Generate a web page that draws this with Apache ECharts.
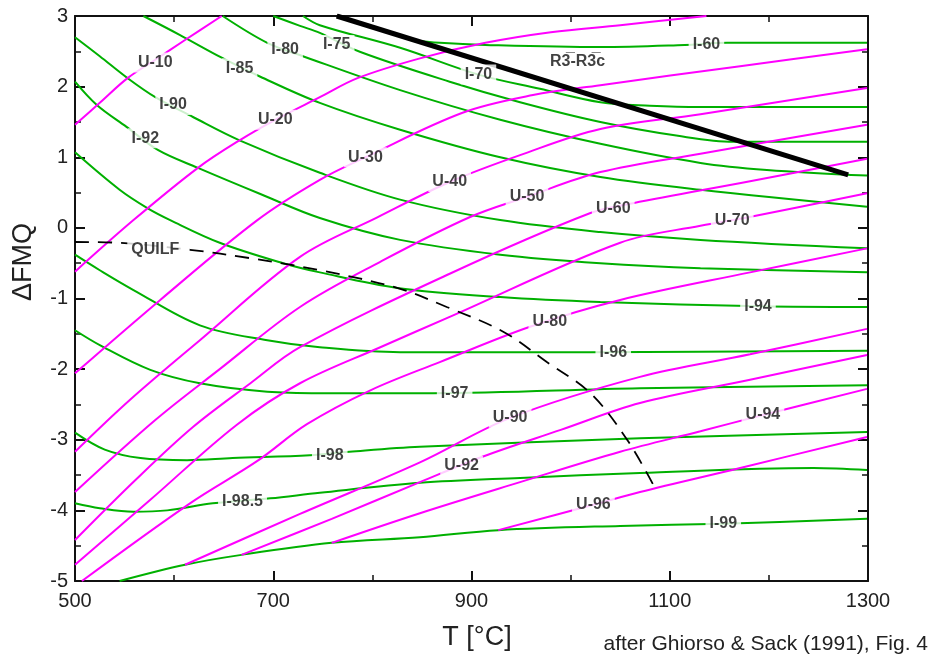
<!DOCTYPE html>
<html>
<head>
<meta charset="utf-8">
<script src="https://cdn.jsdelivr.net/npm/echarts@6/dist/echarts.min.js"></script>
<style>
html,body{margin:0;padding:0;background:#fff;}
#chart{width:933px;height:659px;}
</style>
</head>
<body>
<div id="chart"></div>
<script>
// ---- axis ticks ----
const xMajor = [500, 700, 900, 1100, 1300];
const xMinor = [600, 800, 1000, 1200];
const yMajor = [-5, -4, -3, -2, -1, 0, 1, 2, 3];
const yMinor = [-4.5, -3.5, -2.5, -1.5, -0.5, 0.5, 1.5, 2.5];

// ---- ulvöspinel isopleths (magenta): [T °C, ΔFMQ] ----
const U10 = [[500,1.46],[525,1.77],[553,2.12],[581,2.38],[611,2.66],[648,3.0]];
const U20 = [[500,-0.62],[559,0.11],[624,0.85],[666,1.24],[702,1.53],[747,1.85],[785,2.12],[848,2.40],[914,2.62],[980,2.77],[1050,2.87],[1137,3.0]];
const U30 = [[500,-2.06],[586,-1.02],[684,0.11],[747,0.68],[793,1.0],[891,1.63],[962,1.88],[1030,2.02],[1171,2.29],[1299,2.53]];
const U40 = [[500,-3.17],[555,-2.44],[626,-1.59],[727,-0.41],[805,0.15],[878,0.65],[949,1.03],[1030,1.40],[1131,1.61],[1299,1.98]];
const U50 = [[500,-3.74],[581,-2.72],[646,-2.0],[727,-1.12],[808,-0.48],[898,0.15],[956,0.44],[1030,0.79],[1131,1.05],[1299,1.46]];
const U60 = [[500,-4.42],[561,-3.57],[619,-2.82],[677,-2.20],[727,-1.69],[878,-0.65],[1020,0.21],[1063,0.35],[1181,0.66],[1299,0.98]];
const U70 = [[500,-4.77],[576,-3.85],[663,-2.79],[727,-2.20],[808,-1.69],[878,-1.26],[1050,-0.21],[1131,0.03],[1183,0.16],[1299,0.49]];
const U80 = [[507,-5.0],[616,-3.90],[684,-3.30],[734,-2.78],[798,-2.30],[868,-1.90],[959,-1.40],[1050,-1.02],[1181,-0.63],[1299,-0.29]];
const U90 = [[611,-4.77],[727,-4.05],[848,-3.32],[939,-2.69],[1070,-2.11],[1181,-1.79],[1299,-1.43]];
const U92 = [[668,-4.63],[759,-4.12],[848,-3.60],[911,-3.24],[990,-2.86],[1070,-2.48],[1181,-2.15],[1299,-1.80]];
const U94 = [[759,-4.46],[848,-4.04],[949,-3.60],[1050,-3.17],[1131,-2.88],[1194,-2.65],[1299,-2.28]];
const U96 = [[927,-4.28],[1023,-3.92],[1070,-3.74],[1171,-3.40],[1299,-2.96]];

// ---- ilmenite isopleths (green) ----
const I60 = [[838,2.66],[868,2.62],[914,2.59],[1030,2.56],[1115,2.59],[1158,2.62],[1299,2.62]];
const I70 = [[730,3.0],[747,2.87],[828,2.55],[907,2.17],[969,1.97],[1030,1.78],[1080,1.73],[1131,1.71],[1299,1.71]];
const I75 = [[700,3.0],[727,2.86],[747,2.76],[788,2.49],[878,2.07],[949,1.78],[1030,1.50],[1110,1.30],[1164,1.22],[1299,1.22]];
const I80 = [[649,3.0],[694,2.62],[732,2.42],[828,1.95],[929,1.53],[1030,1.19],[1131,0.92],[1198,0.82],[1299,0.74]];
const I85 = [[569,3.0],[606,2.73],[648,2.41],[687,2.14],[747,1.77],[828,1.39],[929,1.0],[1030,0.72],[1131,0.54],[1299,0.30]];
const I90 = [[500,2.70],[525,2.43],[553,2.12],[581,1.85],[619,1.57],[666,1.24],[747,0.78],[828,0.40],[929,0.11],[1030,-0.06],[1131,-0.17],[1299,-0.29]];
const I92 = [[500,2.07],[522,1.74],[552,1.43],[584,1.10],[624,0.85],[687,0.48],[747,0.14],[828,-0.17],[929,-0.38],[1030,-0.50],[1131,-0.57],[1299,-0.63]];
const I94 = [[500,1.07],[545,0.54],[573,0.28],[596,0.11],[646,-0.21],[710,-0.50],[747,-0.63],[825,-0.85],[929,-0.98],[1030,-1.05],[1191,-1.11],[1299,-1.12]];
const I96 = [[500,-0.38],[525,-0.60],[559,-0.88],[626,-1.38],[694,-1.59],[747,-1.69],[828,-1.76],[1020,-1.76],[1299,-1.74]];
const I97 = [[500,-1.45],[525,-1.66],[576,-2.01],[626,-2.20],[694,-2.32],[747,-2.34],[861,-2.34],[1070,-2.27],[1299,-2.23]];
const I98 = [[500,-2.90],[530,-3.14],[566,-3.26],[613,-3.29],[659,-3.26],[737,-3.22],[777,-3.17],[848,-3.10],[1070,-2.98],[1299,-2.89]];
const I985 = [[500,-3.90],[525,-3.97],[559,-4.02],[593,-4.00],[639,-3.90],[697,-3.83],[747,-3.75],[848,-3.61],[949,-3.54],[1070,-3.47],[1245,-3.40],[1299,-3.43]];
const I99 = [[545,-5.0],[611,-4.77],[668,-4.63],[759,-4.46],[848,-4.38],[927,-4.28],[1050,-4.22],[1154,-4.19],[1299,-4.12]];

// ---- phase boundaries ----
const R3R3c = [[764,3.0],[1280,0.75]];
const QUILF = [[500,-0.20],[542,-0.21],[616,-0.31],[677,-0.43],[747,-0.60],[825,-0.85],[875,-1.12],[932,-1.47],[976,-1.90],[1020,-2.34],[1057,-3.0],[1085,-3.68]];

// ---- curve labels ----
const labelText = ['U-10','U-20','U-30','U-40','U-50','U-60','U-70','U-80','U-90','U-92','U-94','U-96',
  'I-60','I-70','I-75','I-80','I-85','I-90','I-92','I-94','I-96','I-97','I-98','I-98.5','I-99','QUILF','R3\u0305-R3\u0305c'];
const labelT = [581,702,793,878,956,1043,1163,979,939,890,1194,1023,
  1137,907,764,712,666,599,571,1189,1043,883,757,669,1154,581,1007];
const labelD = [2.34,1.53,1.0,0.65,0.44,0.28,0.11,-1.33,-2.69,-3.37,-2.65,-3.92,
  2.59,2.17,2.59,2.52,2.26,1.74,1.27,-1.11,-1.77,-2.34,-3.22,-3.88,-4.19,-0.31,2.35];

const FONT = "'Liberation Sans', Arial, Helvetica, sans-serif";
const MAGENTA = '#ff00ff';
const GREEN = '#00b000';
const INK = '#111';

const magentaCurves = [U10,U20,U30,U40,U50,U60,U70,U80,U90,U92,U94,U96];
const greenCurves = [I60,I70,I75,I80,I85,I90,I92,I94,I96,I97,I98,I985,I99];

function lineSeries(data, color, width, z, type, smooth) {
  return {
    type: 'line', data: data, showSymbol: false, symbol: 'none',
    smooth: smooth === undefined ? 0.35 : smooth, silent: true, z: z,
    lineStyle: { color: color, width: width, type: type || 'solid' }
  };
}

function mkX(pos, major, showLine, showLabel) {
  return {
    type: 'value', min: 500, max: 1300, interval: 100, position: pos, gridIndex: 0,
    axisLine: { show: showLine, onZero: false, lineStyle: { color: INK, width: 2 } },
    axisTick: { show: true, inside: true, length: major ? 10 : 6,
      customValues: major ? xMajor : xMinor, lineStyle: { color: INK, width: major ? 2 : 1.5 } },
    axisLabel: { show: showLabel, customValues: xMajor, formatter: v => String(v),
      fontSize: 20, color: '#222', margin: 10, fontFamily: FONT },
    splitLine: { show: false }
  };
}
function mkY(pos, major, showLine, showLabel) {
  return {
    type: 'value', min: -5, max: 3, interval: 0.5, position: pos, gridIndex: 0,
    axisLine: { show: showLine, onZero: false, lineStyle: { color: INK, width: 2 } },
    axisTick: { show: true, inside: true, length: major ? 10 : 6,
      customValues: major ? yMajor : yMinor, lineStyle: { color: INK, width: major ? 2 : 1.5 } },
    axisLabel: { show: showLabel, customValues: yMajor, formatter: v => String(v),
      fontSize: 20, color: '#222', margin: 7, fontFamily: FONT },
    splitLine: { show: false }
  };
}

const series = [];
greenCurves.forEach(c => series.push(lineSeries(c, GREEN, 2, 2)));
magentaCurves.forEach(c => series.push(lineSeries(c, MAGENTA, 2, 3)));
series.push(lineSeries(R3R3c, '#000', 5, 5, 'solid', false));
series.push(lineSeries(QUILF, '#000', 1.8, 5, [14, 9], 0.35));
series.push({
  type: 'scatter', silent: true, z: 10, symbolSize: 1,
  itemStyle: { color: 'rgba(0,0,0,0)' },
  data: labelText.map((t, i) => [labelT[i], labelD[i], t]),
  label: {
    show: true, position: 'inside', formatter: p => p.data[2],
    fontSize: 16, fontWeight: 'bold', color: '#111', fontFamily: FONT,
    backgroundColor: '#fff', padding: [2, 4]
  }
});

const chart = echarts.init(document.getElementById('chart'), null, { renderer: 'canvas' });
chart.setOption({
  animation: false,
  backgroundColor: '#fff',
  grid: { left: 75, right: 65, top: 16, bottom: 78, containLabel: false },
  xAxis: [mkX('bottom', true, true, true), mkX('bottom', false, false, false),
          mkX('top', true, true, false), mkX('top', false, false, false)],
  yAxis: [mkY('left', true, true, true), mkY('left', false, false, false),
          mkY('right', true, true, false), mkY('right', false, false, false)],
  graphic: [
    { type: 'text', x: 24, y: 262, rotation: Math.PI / 2,
      style: { text: '\u0394FMQ', fontSize: 27, fontFamily: FONT, fill: '#222', textAlign: 'center', textVerticalAlign: 'middle' } },
    { type: 'text', x: 477, y: 638,
      style: { text: 'T [\u00B0C]', fontSize: 27, fontFamily: FONT, fill: '#222', textAlign: 'center', textVerticalAlign: 'middle' } },
    { type: 'text', x: 928, y: 644,
      style: { text: 'after Ghiorso & Sack (1991), Fig. 4', fontSize: 21, fontFamily: FONT, fill: '#222', textAlign: 'right', textVerticalAlign: 'middle' } }
  ],
  series: series
});
</script>
</body>
</html>
